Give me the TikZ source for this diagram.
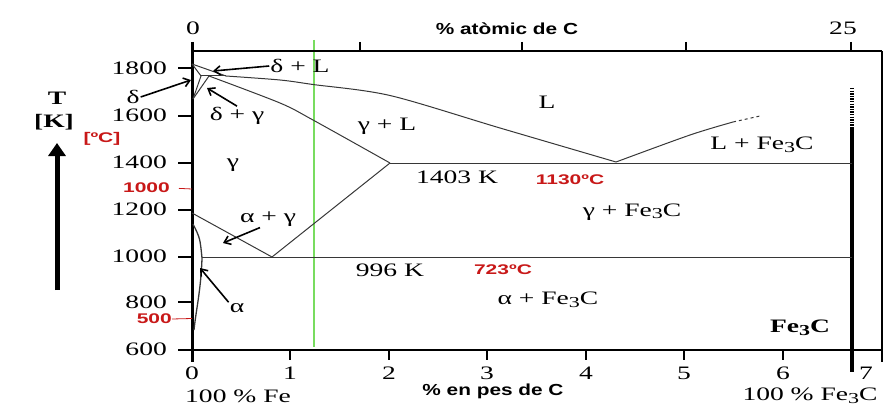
\documentclass[tikz,border=0pt]{standalone}
\usepackage{fontspec}
\setmainfont{Liberation Serif}[FakeStretch=1.45]
\newfontfamily\labsans{Liberation Sans}[FakeStretch=1.3]
\newfontfamily\redsans{Liberation Sans}[FakeStretch=1.5]
\usepackage{graphicx,xcolor}
\definecolor{fcline}{RGB}{55,55,55}
\definecolor{fcred}{RGB}{200,24,24}
\definecolor{fcgreen}{RGB}{120,220,95}
\usetikzlibrary{arrows.meta}
\newcommand{\cem}{Fe\raisebox{-.3ex}{\scalebox{.8}{3}}C}

\begin{document}
\begin{tikzpicture}[x=1pt,y=-1pt,
  phase/.style={draw=fcline,line width=1pt},
  lbl/.style={font=\fontsize{19}{20}\selectfont,inner sep=1pt},
  redlbl/.style={text=fcred,font=\redsans\bfseries\fontsize{14}{15}\selectfont,inner sep=1pt},
  axlbl/.style={font=\labsans\bfseries\fontsize{16}{17}\selectfont,inner sep=1pt},
  pointer/.style={-{Straight Barb[length=6pt,width=9pt]},line width=1.6pt}]
  \useasboundingbox (0,0) rectangle (892,412);
  % frame and axes
  \draw[fcgreen,line width=1.5pt] (314,40) -- (314,347);
  \draw[line width=2pt] (192,51) -- (882,51);
  \draw[line width=2pt] (178,350) -- (882,350);
  \draw[line width=2.5pt] (882,51) -- (882,362);
  \draw[line width=3pt] (192,42) -- (192,362);
  \foreach \v/\y in {1800/68.5,1600/115.5,1400/162.5,1200/209.5,1000/256.5,800/302,600/349.5} {
    \draw[line width=2pt] (178,\y) -- (192,\y);
    \node[lbl,anchor=east] (ylab\v) at (168,\y) {\v};
  }
  \foreach \w/\x in {1/290,2/389,3/487,4/586,5/684,6/783}
    \draw[line width=2.5pt] (\x,350) -- (\x,360);
  \foreach \w/\x in {0/192,1/290,2/389,3/487,4/586,5/684,6/783,7/866}
    \node[lbl] (xlab\w) at (\x,373.5) {\w};
  \foreach \x in {360,522,686,851}
    \draw[line width=2.5pt] (\x,42) -- (\x,51);
  \node[lbl] (topzero) at (193,28) {0};
  \node[lbl] (toptwentyfive) at (843,28) {25};
  \node[axlbl] (atomic) at (507,29) {\% atòmic de C};
  \node[axlbl] (weight) at (493,391) {\% en pes de C};
  \node[lbl] (pureFe) at (238,396) {100 \% Fe};
  \node[lbl] (pureCem) at (810,396) {100 \% \cem};
  % temperature axis
  \node[lbl,font=\bfseries\fontsize{19}{20}\selectfont] (tname) at (57,98) {T};
  \node[lbl,font=\bfseries\fontsize{19}{20}\selectfont] (tunit) at (54,122) {[K]};
  \draw[line width=5pt,-{Triangle[length=13pt,width=17pt]}] (57,290) -- (57,143);
  \node[redlbl] (celsius) at (102,139) {[ºC]};
  \node[redlbl,anchor=east] (cThousand) at (171,188) {1000};
  \node[redlbl,anchor=east,inner sep=0pt] (cFive) at (172,319) {500};
  \coordinate (axThousand) at (192,189);
  \coordinate (axFive) at (192,318.5);
  \draw[fcred,line width=.8pt,shorten <=8pt] (cThousand.east) -- (axThousand);
  \draw[fcred,line width=.8pt] (cFive.east) -- (axFive);
  % cementite
  \draw[line width=4.5pt] (852,128) -- (852,372);
  \draw[line width=4.5pt,dash pattern=on 1.4pt off 1.2pt] (852,88) -- (852,128);
  % phase boundaries
  \draw[phase] (192,64) -- (226,76);
  \draw[phase] plot[smooth,tension=.5] coordinates {(226,76) (280,80) (313,84.5) (390,95.5) (500,128) (616,162)};
  \draw[phase] (192,64) -- (201,76) -- (193,99);
  \draw[phase] (201,76) -- (226,76);
  \draw[phase] (193,99) -- (209,76);
  \draw[phase] plot[smooth,tension=.5] coordinates {(209,76) (280,103) (313,120) (390,163)};
  \draw[phase] (390,163) -- (852,163);
  \draw[phase] plot[smooth,tension=.5] coordinates {(616,162) (690,135) (733,122)};
  \draw[phase,dashed] (733,122) -- (760,116);
  \draw[phase] (192,213) -- (272,257) -- (390,163);
  \draw[phase] (202,257.5) -- (852,257.5);
  \draw[phase,line width=1.3pt] (193,224) .. controls (200,238) .. (202,258) .. controls (201,290) and (196,310) .. (194,330);
  % region labels
  \node[lbl] (lblDeltaL) at (300,66) {δ + L};
  \node[lbl] (lblDelta) at (133,97) {δ};
  \node[lbl] (lblDeltaGamma) at (237,116) {δ + γ};
  \node[lbl] (lblAlphaGamma) at (268,219) {α + γ};
  \node[lbl] (lblAlpha) at (237,308) {α};
  \coordinate (tipDeltaL) at (213,71);
  \coordinate (tipDelta) at (191,80);
  \coordinate (tipDeltaGamma) at (207,88);
  \coordinate (tipAlphaGamma) at (223,243);
  \coordinate (tipAlpha) at (200,268);
  \draw[pointer] (lblDeltaL.west) -- (tipDeltaL);
  \draw[pointer] (lblDelta.east) -- (tipDelta);
  \draw[pointer] (lblDeltaGamma.north) -- (tipDeltaGamma);
  \draw[pointer] ([xshift=-8pt]lblAlphaGamma.south) -- (tipAlphaGamma);
  \draw[pointer] (lblAlpha.north west) -- (tipAlpha);
  \node[lbl] (lblL) at (547,102) {L};
  \node[lbl] (lblGammaL) at (387,126) {γ + L};
  \node[lbl] (lblGamma) at (233,165) {γ};
  \node[lbl] (eutK) at (457,177) {1403 K};
  \node[redlbl] (eutC) at (570,180) {1130ºC};
  \node[lbl] (lblLCem) at (762,145) {L + \cem};
  \node[lbl] (lblGammaCem) at (632,212) {γ + \cem};
  \node[lbl] (eutdK) at (390,270) {996 K};
  \node[redlbl] (eutdC) at (503,270) {723ºC};
  \node[lbl] (lblAlphaCem) at (548,300) {α + \cem};
  \node[lbl,font=\bfseries\fontsize{19}{20}\selectfont] (lblCem) at (800,328) {\cem};
\end{tikzpicture}
\end{document}
